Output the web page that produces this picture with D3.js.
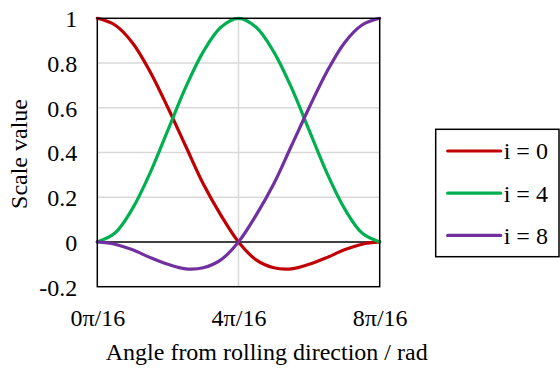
<!DOCTYPE html>
<html>
<head>
<meta charset="utf-8">
<script src="https://cdn.jsdelivr.net/npm/d3@7"></script>
<style>
  body { margin: 0; background: #fff; }
</style>
</head>
<body>
<div id="chart"></div>
<script>
// angle in units of pi/16
var angles = [0, 0.5, 1, 1.5, 2, 2.5, 3, 3.5, 4, 4.5, 5, 5.5, 6, 6.5, 7, 7.5, 8];
var seriesNames = ["i = 0", "i = 4", "i = 8"];
var i0 = [1.00, 0.97, 0.89, 0.76, 0.60, 0.43, 0.26, 0.12, 0.00, -0.08, -0.115, -0.12, -0.10, -0.07, -0.035, -0.01, 0.00];
var i4 = [0.00, 0.04, 0.15, 0.31, 0.50, 0.69, 0.85, 0.96, 1.00, 0.96, 0.85, 0.69, 0.50, 0.31, 0.15, 0.04, 0.00];
var i8 = [0.00, -0.01, -0.035, -0.07, -0.10, -0.12, -0.115, -0.08, 0.00, 0.12, 0.26, 0.43, 0.60, 0.76, 0.89, 0.97, 1.00];
var xTicks = [0, 4, 8];
var yTicks = [-0.2, 0, 0.2, 0.4, 0.6, 0.8, 1];
var colors = ["#c00000", "#00b050", "#7030a0"];
var serif = "Liberation Serif";

var W = 560, H = 372;
var margin = { top: 18.3, left: 97.3, right: 560 - 379.7, bottom: 372 - 286.7 };
var width = W - margin.left - margin.right,
  height = H - margin.top - margin.bottom;

var svg = d3.select("#chart").append("svg")
  .attr("width", W).attr("height", H);

var g = svg.append("g")
  .attr("transform", "translate(" + margin.left + "," + margin.top + ")");

var x = d3.scaleLinear().domain([0, 8]).range([0, width]);
var y = d3.scaleLinear().domain([-0.2, 1]).range([height, 0]);

// gridlines
g.append("g").selectAll("line")
  .data(yTicks.filter(function (d) { return d > 0 && d < 1; }))
  .enter().append("line")
  .attr("x1", 0).attr("x2", width)
  .attr("y1", function (d) { return y(d); }).attr("y2", function (d) { return y(d); })
  .attr("stroke", "#d9d9d9").attr("stroke-width", 1.5);

g.append("line")
  .attr("x1", x(4)).attr("x2", x(4))
  .attr("y1", 0).attr("y2", height)
  .attr("stroke", "#d9d9d9").attr("stroke-width", 1.5);

// zero line
g.append("line")
  .attr("x1", 0).attr("x2", width)
  .attr("y1", y(0)).attr("y2", y(0))
  .attr("stroke", "#000").attr("stroke-width", 1.5);

// y tick labels
var yAxis = g.append("g")
  .call(d3.axisLeft(y).tickValues(yTicks).tickSize(0).tickPadding(20)
    .tickFormat(function (d) { return d === 0 || d === 1 ? String(d) : d.toFixed(1); }));
yAxis.select(".domain").remove();
yAxis.selectAll("text")
  .attr("font-family", serif).attr("font-size", 24)
  .attr("fill", "#000")
  .attr("dy", "0.35em");

// x tick labels
var xAxis = g.append("g")
  .attr("transform", "translate(0," + height + ")")
  .call(d3.axisBottom(x).tickValues(xTicks).tickSize(0).tickPadding(22)
    .tickFormat(function (d) { return d + "\u03c0/16"; }));
xAxis.select(".domain").remove();
xAxis.selectAll("text")
  .attr("font-family", serif).attr("font-size", 24)
  .attr("fill", "#000");

// series
var line = d3.line()
  .x(function (d) { return x(d[0]); })
  .y(function (d) { return y(d[1]); })
  .curve(d3.curveCatmullRom.alpha(0.5));

[i0, i4, i8].forEach(function (vals, k) {
  g.append("path")
    .datum(angles.map(function (a, j) { return [a, vals[j]]; }))
    .attr("fill", "none")
    .attr("stroke", colors[k])
    .attr("stroke-width", 3.2)
    .attr("stroke-linecap", "round")
    .attr("d", line);
});

// plot border
g.append("rect")
  .attr("x", 0).attr("y", 0)
  .attr("width", width).attr("height", height)
  .attr("fill", "none").attr("stroke", "#000").attr("stroke-width", 1.5);

// axis titles
svg.append("text")
  .attr("x", 266.7).attr("y", 360)
  .attr("text-anchor", "middle")
  .attr("font-family", serif)
  .attr("font-size", 24)
  .text("Angle from rolling direction / rad");

svg.append("text")
  .attr("transform", "translate(27,154) rotate(-90)")
  .attr("text-anchor", "middle")
  .attr("font-family", serif)
  .attr("font-size", 24)
  .text("Scale value");

// legend
var legend = svg.append("g").attr("transform", "translate(435.7,129.3)");
legend.append("rect")
  .attr("width", 123.3).attr("height", 127.4)
  .attr("fill", "#fff").attr("stroke", "#000").attr("stroke-width", 1.5);

var rows = legend.selectAll("g.row")
  .data(seriesNames)
  .enter().append("g")
  .attr("class", "row")
  .attr("transform", function (d, k) { return "translate(0," + (21.7 + k * 42.2) + ")"; });

rows.append("line")
  .attr("x1", 12).attr("x2", 65)
  .attr("stroke", function (d, k) { return colors[k]; })
  .attr("stroke-width", 3.2)
  .attr("stroke-linecap", "round");

rows.append("text")
  .attr("x", 68)
  .attr("dy", "0.35em")
  .attr("font-family", serif)
  .attr("font-size", 24)
  .text(function (d) { return d; });
</script>
</body>
</html>
